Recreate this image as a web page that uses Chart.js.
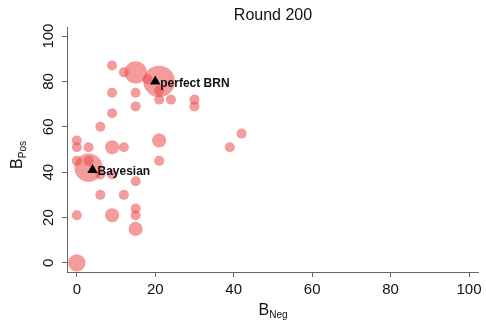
<!DOCTYPE html>
<html>
<head>
<meta charset="utf-8">
<script src="https://cdn.jsdelivr.net/npm/chart.js@4"></script>
<style>
  html, body { margin: 0; padding: 0; background: #fff; }
  #wrap { width: 486px; height: 321px; }
</style>
</head>
<body>
<div id="wrap"><canvas id="bubbleChart"></canvas></div>
<script>
// Bubble data (B_Neg, B_Pos, weight)
const negVals = [9, 12, 15, 21, 18, 9, 15, 21, 21, 24, 30, 30, 15, 9, 6, 42, 39, 21, 0, 0, 3, 9, 12, 21, 0, 3, 3, 6, 9, 15, 6, 12, 0, 9, 15, 15, 15, 0];
const posVals = [87, 84, 84, 80, 81, 75, 75, 76, 72, 72, 72, 69, 69, 66, 60, 57, 51, 54, 54, 51, 51, 51, 51, 45, 45, 45, 42, 39, 39, 36, 30, 30, 21, 21, 24, 21, 15, 0];
const weights = [1, 1, 5, 10, 1, 1, 1, 1, 1, 1, 1, 1, 1, 1, 1, 1, 1, 2, 1, 1, 1, 2, 1, 1, 1, 1, 8, 1, 1, 1, 1, 1, 1, 2, 1, 1, 2, 3];

// Reference points
const refNames = ['perfect BRN', 'Bayesian'];
const refNeg = [20, 4];
const refPos = [80, 41];

const xTicks = [0, 20, 40, 60, 80, 100];
const yTicks = [0, 20, 40, 60, 80, 100];

const FONT = '"Liberation Sans", Arial, Helvetica, sans-serif';

const bubbles = negVals.map((v, i) => ({ x: v, y: posVals[i], r: 5 * Math.sqrt(weights[i]) }));
const refs = refNeg.map((v, i) => ({ x: v, y: refPos[i] }));

// Draws the x axis line, rotated y tick labels, axis titles with subscripts, marker labels and title
const extras = {
  id: 'extras',
  afterDraw(chart) {
    const { ctx, chartArea, scales: { x, y } } = chart;
    ctx.save();

    // x axis line runs a bit past the plot area, like the original
    ctx.strokeStyle = '#666';
    ctx.lineWidth = 1;
    ctx.beginPath();
    ctx.moveTo(chartArea.left, chartArea.bottom + 0.5);
    ctx.lineTo(479, chartArea.bottom + 0.5);
    ctx.stroke();

    ctx.fillStyle = '#111';

    // title
    ctx.font = '16px ' + FONT;
    ctx.textAlign = 'center';
    ctx.textBaseline = 'alphabetic';
    ctx.fillText('Round 200', 273, 20);

    // x tick labels
    ctx.font = '15px ' + FONT;
    xTicks.forEach(v => {
      ctx.fillText(String(v), x.getPixelForValue(v), 294);
    });

    // y tick labels, rotated
    yTicks.forEach(v => {
      ctx.save();
      ctx.translate(chartArea.left - 14, y.getPixelForValue(v));
      ctx.rotate(-Math.PI / 2);
      ctx.textAlign = 'center';
      ctx.fillText(String(v), 0, 0);
      ctx.restore();
    });

    // x axis title: B with subscript Neg
    ctx.textAlign = 'left';
    ctx.font = '16px ' + FONT;
    const bw = ctx.measureText('B').width;
    ctx.font = '10px ' + FONT;
    const nw = ctx.measureText('Neg').width;
    const sx = 273 - (bw + nw) / 2;
    ctx.font = '16px ' + FONT;
    ctx.fillText('B', sx, 315);
    ctx.font = '10px ' + FONT;
    ctx.fillText('Neg', sx + bw, 318);

    // y axis title: B with subscript Pos, rotated
    ctx.save();
    ctx.translate(22, 155);
    ctx.rotate(-Math.PI / 2);
    ctx.font = '16px ' + FONT;
    const bw2 = ctx.measureText('B').width;
    ctx.font = '10px ' + FONT;
    const pw = ctx.measureText('Pos').width;
    const sy = -(bw2 + pw) / 2;
    ctx.font = '16px ' + FONT;
    ctx.fillText('B', sy, 0);
    ctx.font = '10px ' + FONT;
    ctx.fillText('Pos', sy + bw2, 4);
    ctx.restore();

    // labels beside the reference markers
    ctx.font = 'bold 12px ' + FONT;
    ctx.textAlign = 'left';
    ctx.textBaseline = 'middle';
    refNames.forEach((name, i) => {
      ctx.fillText(name, x.getPixelForValue(refNeg[i]) + 5, y.getPixelForValue(refPos[i]) + 2);
    });
    ctx.restore();
  }
};

const ctx = document.getElementById('bubbleChart').getContext('2d');
new Chart(ctx, {
  type: 'bubble',
  data: {
    datasets: [
      {
        type: 'scatter',
        data: refs,
        pointStyle: 'triangle',
        pointRadius: 6,
        backgroundColor: '#000',
        borderColor: '#000',
        borderWidth: 0,
        order: 0
      },
      {
        data: bubbles,
        backgroundColor: 'rgba(235, 72, 72, 0.55)',
        borderWidth: 0,
        order: 1
      }
    ]
  },
  options: {
    responsive: true,
    maintainAspectRatio: false,
    animation: false,
    events: [],
    layout: { padding: { top: 27, right: 7, left: 0, bottom: 0 } },
    plugins: {
      legend: { display: false },
      tooltip: { enabled: false }
    },
    scales: {
      x: {
        type: 'linear',
        min: -2.5,
        max: 100.3,
        afterBuildTicks: s => { s.ticks = xTicks.map(v => ({ value: v })); },
        afterFit: s => { s.height = 49; },
        ticks: { display: false },
        grid: { drawOnChartArea: false, drawTicks: true, tickLength: 5, color: '#666' },
        border: { display: false }
      },
      y: {
        type: 'linear',
        min: -4,
        max: 104,
        afterBuildTicks: s => { s.ticks = yTicks.map(v => ({ value: v })); },
        afterFit: s => { s.width = 67; },
        ticks: { display: false },
        grid: { drawOnChartArea: false, drawTicks: true, tickLength: 5, color: '#666' },
        border: { display: true, color: '#666', width: 1 }
      }
    }
  },
  plugins: [extras]
});
</script>
</body>
</html>
